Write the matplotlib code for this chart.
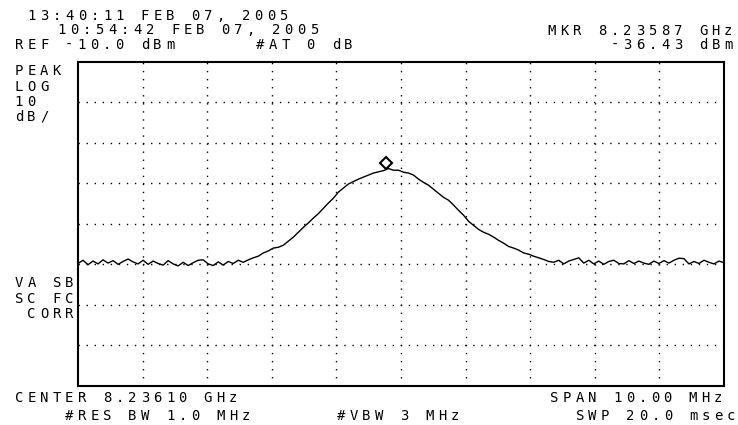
import numpy as np
import matplotlib
matplotlib.use("Agg")
import matplotlib.pyplot as plt
from matplotlib.transforms import offset_copy

# analyzer settings
center_ghz = 8.23610
span_mhz = 10.0
ref_dbm = -10.0
db_per_div = 10
n_hdiv = 10
n_vdiv = 8

# marker readout
mkr_ghz = 8.23587
mkr_dbm = -36.43

# trace levels (dBm), left to right across the span
trace_dbm = [
    -59.8, -59.0, -60.1, -59.2, -59.9, -58.9, -59.7, -59.1, -60.0, -59.3,
    -58.7, -59.4, -59.9, -59.0, -60.0, -59.2, -59.8, -60.2, -59.1, -59.9,
    -60.4, -59.5, -60.3, -59.6, -59.0, -58.9, -59.9, -60.3, -59.4, -60.2,
    -59.3, -59.8, -59.0, -59.5, -58.9, -58.4, -58.0, -57.2, -56.7, -56.0,
    -55.8, -55.3, -54.3, -53.3, -52.1, -50.9, -49.8, -48.6, -47.5, -46.2,
    -44.9, -43.7, -42.2, -41.2, -40.2, -39.6, -39.0, -38.5, -38.0, -37.5,
    -37.2, -36.9, -36.4, -36.8, -36.8, -37.3, -37.5, -38.0, -39.0, -39.8,
    -40.5, -41.5, -42.5, -43.5, -44.2, -45.4, -46.7, -47.9, -49.4, -50.4,
    -51.4, -52.1, -52.6, -53.3, -54.1, -54.8, -55.6, -56.0, -56.5, -57.2,
    -57.5, -58.0, -58.4, -58.8, -59.3, -59.5, -59.0, -59.9, -59.2, -58.8,
    -58.4, -59.7, -59.0, -59.9, -59.2, -60.0, -59.3, -59.0, -59.8, -59.9,
    -59.1, -59.8, -59.2, -59.7, -60.0, -59.2, -59.8, -59.1, -59.7, -59.0,
    -58.5, -58.6, -59.9, -59.3, -59.8, -59.0, -59.5, -59.9, -59.2, -59.6,
]

# screen annotations: (text, left x px, baseline y px)
top_lines = [
    ("13:40:11 FEB 07, 2005", 25.2, 20),
    ("10:54:42 FEB 07, 2005", 55.6, 34),
    ("REF -10.0 dBm", 12.6, 49),
    ("#AT 0 dB", 254, 49),
]
right_lines = [
    ("MKR 8.23587 GHz", 734.5, 35),
    ("-36.43 dBm", 734.5, 49),
    ("SPAN 10.00 MHz", 724.5, 402),
    ("SWP 20.0 msec", 737.5, 420),
]
left_labels = [
    ("PEAK", 12.6, 75), ("LOG", 12.6, 91), ("10", 12.6, 106), ("dB/", 12.6, 121),
    ("VA SB", 12.6, 287), ("SC FC", 12.6, 303), (" CORR", 12.6, 318),
]
bottom_lines = [
    ("CENTER 8.23610 GHz", 12.6, 402),
    ("#RES BW 1.0 MHz", 63, 420),
    ("#VBW 3 MHz", 335, 420),
]

W, H = 738, 425
CW = 12.6  # character cell width in px

fig = plt.figure(figsize=(W / 100, H / 100), dpi=100)
fig.patch.set_facecolor("white")
ax = fig.add_axes([78 / W, 1 - 386 / H, 646 / W, 324.5 / H])

half = span_mhz / 2
bottom_dbm = ref_dbm - db_per_div * n_vdiv
freq_mhz = np.linspace(-half, half, len(trace_dbm))

ax.set_xlim(-half, half)
ax.set_ylim(bottom_dbm, ref_dbm)
ax.set_xticks([])
ax.set_yticks([])
for sp in ax.spines.values():
    sp.set_linewidth(1.5)
    sp.set_color("black")

dots = (0, (1, 4.8))
for xv in np.linspace(-half, half, n_hdiv + 1)[1:-1]:
    ax.axvline(xv, color="black", lw=1.0, ls=dots)
for yv in np.arange(ref_dbm - db_per_div, bottom_dbm, -db_per_div):
    ax.axhline(yv, color="black", lw=1.0, ls=dots)

ax.plot(freq_mhz, trace_dbm, color="black", lw=1.0)

mkr_x = (mkr_ghz - center_ghz) * 1000
up = offset_copy(ax.transData, fig=fig, x=0, y=4.3, units="points")
ax.plot([mkr_x], [mkr_dbm], marker="D", ms=6.5, mfc="white", mec="black",
        mew=1.5, transform=up, zorder=5)


def put(s, x, y):
    for i, ch in enumerate(s):
        if ch == " ":
            continue
        fig.text((x + (i + 0.5) * CW) / W, 1 - y / H, ch, ha="center",
                 va="baseline", family="DejaVu Sans Mono", fontsize=10,
                 color="black")


for s, x, y in top_lines + left_labels + bottom_lines:
    put(s, x, y)
for s, xr, y in right_lines:
    put(s, xr - len(s) * CW, y)

fig.savefig("out.png", dpi=100, facecolor="white")
